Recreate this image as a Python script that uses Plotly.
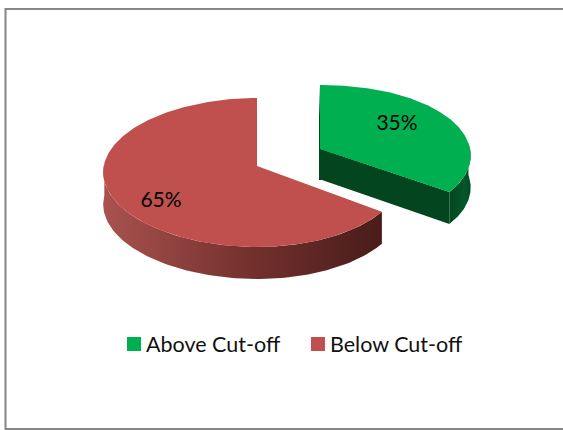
import numpy as np
import plotly.graph_objects as go

categories = ["Above Cut-off", "Below Cut-off"]
shares = [35, 65]

# Pie look
top_colors = ["#00B050", "#C0504D"]
FONT = "Lato"
DEPTH = 32
P = 0.087  # perspective strength


def project(theta_deg, cx, cy, a, b, q):
    t = np.radians(theta_deg)
    u, v = np.sin(t), np.cos(t)
    w = 1 + P * v
    return cx + a * u / w * (1 - q * u), cy - b * v / w


split = 360 * shares[0] / sum(shares)
green = dict(cx=320, cy=149, a=159, b=69.6, q=0.056)
red = dict(cx=257, cy=166, a=149.5, b=73.9, q=0.025)

fig = go.Figure()


def poly(x, y, color=None, gradient=None):
    kw = dict(fillgradient=gradient) if gradient else dict(fillcolor=color)
    fig.add_trace(go.Scatter(x=list(x), y=list(y), mode="lines", fill="toself",
                             line=dict(width=0), hoverinfo="skip",
                             showlegend=False, **kw))


# Below Cut-off: outer wall, then top
th = np.linspace(split, 272, 120)
xa, ya = project(th, **red)
poly(np.r_[xa, xa[::-1]], np.r_[ya, ya[::-1] + DEPTH],
     gradient=dict(type="horizontal", start=103, stop=382,
                   colorscale=[[0, "#A9524F"], [0.5, "#76322F"], [1, "#481C1A"]]))
th = np.linspace(split, 360, 240)
xa, ya = project(th, **red)
poly(np.r_[red["cx"], xa], np.r_[red["cy"], ya], color=top_colors[1])

# Above Cut-off: cut face, outer wall, then top
xc, yc = project(split, **green)
poly([green["cx"] - 1, green["cx"] + 1, xc, xc, green["cx"] + 2, green["cx"] - 1],
     [85, green["cy"], yc, yc + DEPTH, green["cy"] + 31, green["cy"] + 31], color="#03451F")
th = np.linspace(85, split, 60)
xa, ya = project(th, **green)
poly(np.r_[xa, xa[::-1]], np.r_[ya, ya[::-1] + DEPTH],
     gradient=dict(type="horizontal", start=449, stop=471,
                   colorscale=[[0, "#03451F"], [0.7, "#06572B"], [1, "#034A22"]]))
th = np.linspace(0, split, 160)
xa, ya = project(th, **green)
poly(np.r_[green["cx"], xa], np.r_[green["cy"], ya], color=top_colors[0])

# Data labels
fig.add_trace(go.Scatter(x=[397, 161], y=[124.5, 201.5], mode="text",
                         text=[f"{s}%" for s in shares],
                         textposition="middle center",
                         textfont=dict(family=FONT, size=21, color="#000000"),
                         hoverinfo="skip", showlegend=False))

# Legend entries
for name, color, sx, tx in zip(categories, top_colors, [134, 318], [146, 330]):
    fig.add_trace(go.Scatter(x=[sx], y=[344], mode="markers", name=name,
                             marker=dict(symbol="square", size=14, color=color),
                             hoverinfo="skip", showlegend=False))
    fig.add_annotation(x=tx, y=343.5, text=name, showarrow=False, xanchor="left",
                       yanchor="middle", borderpad=0, borderwidth=0,
                       font=dict(family=FONT, size=21.5, color="#111111"))

fig.add_shape(type="rect", xref="x", yref="y", x0=5.5, y0=9, x1=620, y1=429,
              line=dict(color="#868686", width=2), layer="below")

fig.update_layout(
    width=563, height=430, margin=dict(l=0, r=0, t=0, b=0),
    paper_bgcolor="#FFFFFF", plot_bgcolor="#FFFFFF",
    xaxis=dict(range=[0, 563], visible=False, fixedrange=True),
    yaxis=dict(range=[430, 0], visible=False, fixedrange=True),
    hovermode=False, showlegend=False,
)

fig.write_html("out.html", config={"displayModeBar": False},
               post_script="document.body.style.margin='0';document.documentElement.style.overflow='hidden';")
